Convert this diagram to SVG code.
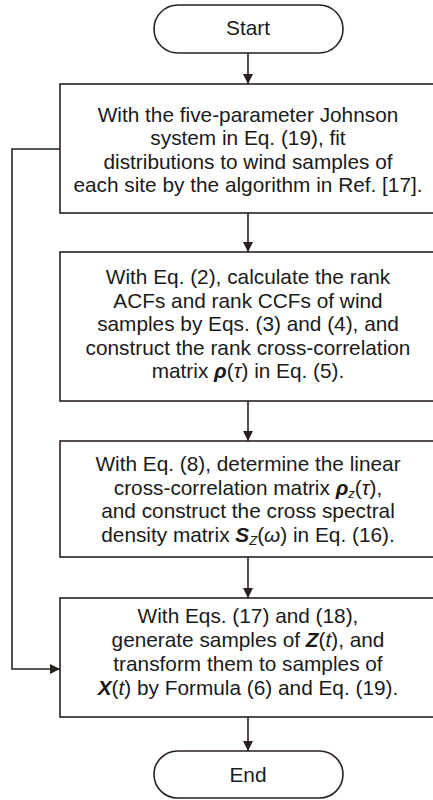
<svg xmlns="http://www.w3.org/2000/svg" width="433" height="800" viewBox="0 0 433 800">
<defs>
<style>
.box{fill:#fff;stroke:#2b2020;stroke-width:1.6}
.ln{fill:none;stroke:#2b2020;stroke-width:1.6}
.t{font-family:"Liberation Sans",Arial,sans-serif;font-size:20.8px;fill:#1a1a1a;text-anchor:middle}
.bi{font-weight:bold;font-style:italic}
.i{font-style:italic}
.sub{font-size:13px;font-style:italic}
</style>
<marker id="ah" viewBox="0 0 10 10" refX="10" refY="5" markerWidth="10" markerHeight="10" markerUnits="userSpaceOnUse" orient="auto">
<path d="M0,0 L10,5 L0,10 Z" fill="#2b2020"/>
</marker>
</defs>
<rect width="433" height="800" fill="#fff"/>
<g id="connectors">
<line class="ln" x1="248" y1="53" x2="248" y2="84" marker-end="url(#ah)"/>
<line class="ln" x1="248" y1="213" x2="248" y2="252" marker-end="url(#ah)"/>
<line class="ln" x1="248" y1="401" x2="248" y2="441" marker-end="url(#ah)"/>
<line class="ln" x1="248" y1="557" x2="248" y2="598" marker-end="url(#ah)"/>
<line class="ln" x1="248" y1="717" x2="248" y2="751" marker-end="url(#ah)"/>
<polyline class="ln" points="60,149 12,149 12,669 60,669" marker-end="url(#ah)"/>
</g>
<g id="start">
<rect class="box" x="154" y="5" width="189" height="48" rx="24" ry="24"/>
<text class="t" x="248" y="35">Start</text>
</g>
<g id="step1">
<rect class="box" x="60" y="84" width="378" height="129"/>
<text class="t" x="248" y="121.5">With the five-parameter Johnson</text>
<text class="t" x="248" y="145">system in Eq. (19), fit</text>
<text class="t" x="248" y="168.5">distributions to wind samples of</text>
<text class="t" x="248" y="192">each site by the algorithm in Ref. [17].</text>
</g>
<g id="step2">
<rect class="box" x="60" y="252" width="378" height="149"/>
<text class="t" x="248" y="284">With Eq. (2), calculate the rank</text>
<text class="t" x="248" y="307.5">ACFs and rank CCFs of wind</text>
<text class="t" x="248" y="331">samples by Eqs. (3) and (4), and</text>
<text class="t" x="248" y="354.5">construct the rank cross-correlation</text>
<text class="t" x="248" y="378">matrix <tspan class="bi">ρ</tspan>(<tspan class="i">τ</tspan>) in Eq. (5).</text>
</g>
<g id="step3">
<rect class="box" x="60" y="441" width="378" height="116"/>
<text class="t" x="248" y="471">With Eq. (8), determine the linear</text>
<text class="t" x="248" y="494.5">cross-correlation matrix <tspan class="bi">ρ</tspan><tspan class="sub" dy="3">z</tspan><tspan dy="-3">(</tspan><tspan class="i">τ</tspan>),</text>
<text class="t" x="248" y="518">and construct the cross spectral</text>
<text class="t" x="248" y="541.5">density matrix <tspan class="bi">S</tspan><tspan class="sub" dy="3">Z</tspan><tspan dy="-3">(</tspan><tspan class="i">ω</tspan>) in Eq. (16).</text>
</g>
<g id="step4">
<rect class="box" x="60" y="598" width="378" height="119"/>
<text class="t" x="248" y="623">With Eqs. (17) and (18),</text>
<text class="t" x="248" y="647">generate samples of <tspan class="bi">Z</tspan>(<tspan class="i">t</tspan>), and</text>
<text class="t" x="248" y="671">transform them to samples of</text>
<text class="t" x="248" y="695"><tspan class="bi">X</tspan>(<tspan class="i">t</tspan>) by Formula (6) and Eq. (19).</text>
</g>
<g id="end">
<rect class="box" x="154" y="751" width="189" height="47" rx="23.5" ry="23.5"/>
<text class="t" x="248" y="782">End</text>
</g>
</svg>
